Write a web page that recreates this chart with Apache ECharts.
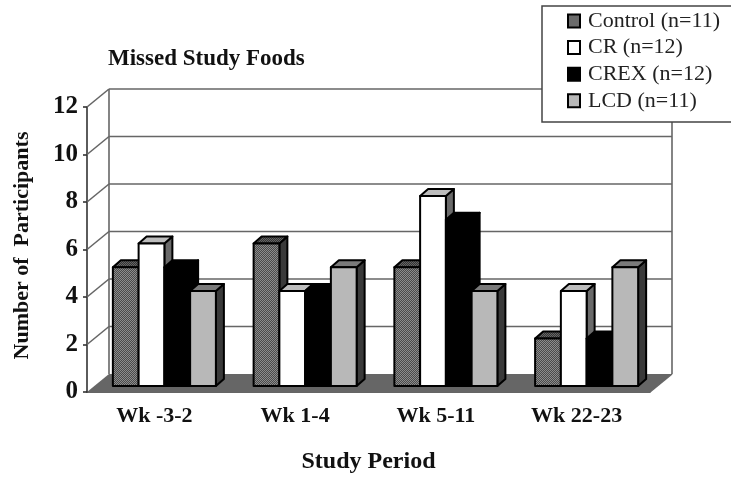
<!DOCTYPE html>
<html>
<head>
<meta charset="utf-8">
<style>html,body{margin:0;padding:0;background:#fff}#chart{width:731px;height:478px}</style>
<script src="https://cdn.jsdelivr.net/npm/echarts@6/dist/echarts.min.js"></script>
</head>
<body>
<div id="chart"></div>
<script>
var categories = ['Wk -3-2', 'Wk 1-4', 'Wk 5-11', 'Wk 22-23'];
var seriesNames = ['Control (n=11)', 'CR (n=12)', 'CREX (n=12)', 'LCD (n=11)'];
var control = [5, 6, 5, 2];
var cr = [6, 4, 8, 4];
var crex = [5, 4, 7, 2];
var lcd = [4, 5, 4, 5];
var yTicks = [0, 2, 4, 6, 8, 10, 12];

var FONT = '"Liberation Serif", serif';
// how far the back wall and the bars are pushed "into" the picture
var WALL_DX = 22, WALL_DY = -18;
var BAR_DX = 7, BAR_DY = -6, BAR_DEPTH_X = 8, BAR_DEPTH_Y = -7;
var BAR_SHARE = 0.183;

function dither(a, b) {
    var c = document.createElement('canvas');
    c.width = c.height = 2;
    var g = c.getContext('2d');
    g.fillStyle = a; g.fillRect(0, 0, 2, 2);
    g.fillStyle = b; g.fillRect(0, 0, 1, 1); g.fillRect(1, 1, 1, 1);
    return {image: c, repeat: 'repeat'};
}

var faces = [
    {front: dither('#4a4a4a', '#8c8c8c'), top: dither('#333', '#666'), side: '#3a3a3a'},
    {front: '#fff', top: '#bdbdbd', side: '#6a6a6a'},
    {front: '#000', top: '#000', side: '#000'},
    {front: '#b8b8b8', top: '#7a7a7a', side: '#3a3a3a'}
];

function renderWall(params, api) {
    var s = params.coordSys;
    var left = s.x, right = s.x + s.width;
    var y = api.coord([0, api.value(1)])[1];
    var line = {stroke: '#666', lineWidth: 1.6};
    var kids = [];
    if (api.value(1) === 0) {
        kids.push({type: 'polygon', shape: {points: [
            [left, y], [right, y], [right + WALL_DX, y + WALL_DY], [left + WALL_DX, y + WALL_DY]
        ]}, style: {fill: '#666'}});
    } else {
        kids.push({type: 'line', shape: {x1: left, y1: y, x2: left + WALL_DX, y2: y + WALL_DY}, style: line});
        kids.push({type: 'line', shape: {x1: left + WALL_DX, y1: y + WALL_DY, x2: right + WALL_DX, y2: y + WALL_DY}, style: line});
    }
    if (api.value(1) === 12) {
        var yb = api.coord([0, 0])[1];
        kids.push({type: 'line', shape: {x1: left + WALL_DX, y1: y + WALL_DY, x2: left + WALL_DX, y2: yb + WALL_DY}, style: line});
        kids.push({type: 'line', shape: {x1: right + WALL_DX, y1: y + WALL_DY, x2: right + WALL_DX, y2: yb + WALL_DY}, style: line});
        kids.push({type: 'line', shape: {x1: right, y1: yb, x2: right + WALL_DX, y2: yb + WALL_DY}, style: line});
    }
    return {type: 'group', children: kids};
}

function barRenderer(idx) {
    return function (params, api) {
        var top = api.coord([api.value(0), api.value(1)]);
        var base = api.coord([api.value(0), 0]);
        var w = api.size([1, 0])[0] * BAR_SHARE;
        var x0 = top[0] + BAR_DX + (idx - 2) * w, x1 = x0 + w;
        var yt = top[1] + BAR_DY, yb = base[1] + BAR_DY;
        var dx = BAR_DEPTH_X, dy = BAR_DEPTH_Y;
        var edge = {stroke: '#000', lineWidth: 2, lineJoin: 'round'};
        var f = faces[idx];
        return {type: 'group', children: [
            {type: 'polygon', shape: {points: [[x1, yt], [x1 + dx, yt + dy], [x1 + dx, yb + dy], [x1, yb]]},
                style: Object.assign({fill: f.side}, edge)},
            {type: 'polygon', shape: {points: [[x0, yt], [x0 + dx, yt + dy], [x1 + dx, yt + dy], [x1, yt]]},
                style: Object.assign({fill: f.top}, edge)},
            {type: 'rect', shape: {x: x0, y: yt, width: w, height: yb - yt},
                style: Object.assign({fill: f.front}, edge)}
        ]};
    };
}

var values = [control, cr, crex, lcd];
var series = [{
    name: 'wall', type: 'custom', z: 1, silent: true,
    renderItem: renderWall,
    data: yTicks.map(function (t) { return [0, t]; })
}];
seriesNames.forEach(function (name, i) {
    series.push({
        name: name, type: 'custom', z: 2 + i,
        renderItem: barRenderer(i),
        itemStyle: {color: faces[i].front, borderColor: '#000', borderWidth: 2},
        data: values[i].map(function (v, c) { return [c, v]; })
    });
});

var myChart = echarts.init(document.getElementById('chart'), null, {renderer: 'canvas'});
myChart.setOption({
    animation: false,
    backgroundColor: '#fff',
    textStyle: {fontFamily: FONT},
    title: {
        text: 'Missed Study Foods', left: 103, top: 43,
        textStyle: {fontFamily: FONT, fontSize: 23, fontWeight: 'bold', color: '#111'}
    },
    graphic: [{
        type: 'rect', z: 50,
        shape: {x: 542, y: 6, width: 200, height: 116},
        style: {fill: '#fff', stroke: '#444', lineWidth: 1.5}
    }],
    legend: {
        z: 60, orient: 'vertical', left: 567, top: 10, padding: 0,
        data: seriesNames, icon: 'rect', itemWidth: 12, itemHeight: 13, itemGap: 4.6,
        selectedMode: false,
        textStyle: {fontFamily: FONT, fontSize: 22, color: '#222', padding: [0, 0, 0, 3]}
    },
    grid: {left: 87, top: 107, width: 563, height: 285, outerBoundsMode: 'none'},
    xAxis: {
        type: 'category', data: categories,
        name: 'Study Period', nameLocation: 'middle', nameGap: 58,
        nameTextStyle: {fontFamily: FONT, fontSize: 24, fontWeight: 'bold', color: '#111'},
        axisLine: {lineStyle: {color: '#333', width: 1.6}},
        axisTick: {length: 6, lineStyle: {color: '#333', width: 1.6}},
        axisLabel: {margin: 13, fontFamily: FONT, fontSize: 22, fontWeight: 'bold', color: '#111', padding: [0, 6, 0, 0]},
        splitLine: {show: false}
    },
    yAxis: {
        type: 'value', min: 0, max: 12, interval: 2,
        name: 'Number of  Participants', nameLocation: 'middle', nameGap: 54, nameRotate: 90,
        nameTextStyle: {fontFamily: FONT, fontSize: 22, fontWeight: 'bold', color: '#111', padding: [0, 0, 0, 8]},
        axisLine: {show: true, lineStyle: {color: '#333', width: 1.6}},
        axisTick: {show: true, length: 4, lineStyle: {color: '#333', width: 1.6}},
        axisLabel: {margin: 9, fontFamily: FONT, fontSize: 25, fontWeight: 'bold', color: '#111'},
        splitLine: {show: false}
    },
    series: series
});
</script>
</body>
</html>
